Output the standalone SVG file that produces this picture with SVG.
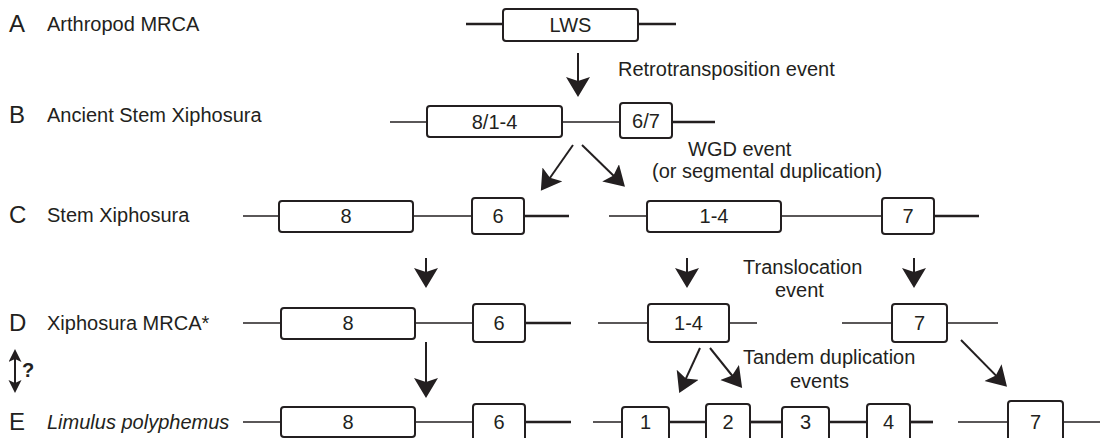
<svg xmlns="http://www.w3.org/2000/svg" width="1106" height="438" viewBox="0 0 1106 438">
<style>
text{font-family:"Liberation Sans",Arial,sans-serif;font-size:20px;fill:#231f20}
.let{font-size:24px}
.it{font-style:italic}
.box{fill:#fff;stroke:#231f20;stroke-width:2}
.bt{text-anchor:middle}
.thin{stroke:#231f20;stroke-width:1.5;fill:none}
.thick{stroke:#231f20;stroke-width:2.7;fill:none}
.arr{stroke:#231f20;stroke-width:2;fill:none;marker-end:url(#ah)}
</style>
<defs>
<marker id="ah" markerUnits="userSpaceOnUse" markerWidth="24" markerHeight="26" refX="11" refY="12" orient="auto" viewBox="0 0 24 26">
<path d="M20,12 L0,0 L4,12 L0,24 Z" fill="#231f20"/>
</marker>
<marker id="ahs" markerUnits="userSpaceOnUse" markerWidth="16" markerHeight="16" refX="6" refY="6.5" orient="auto-start-reverse" viewBox="0 0 16 16">
<path d="M13,6.5 L0,0 L3,6.5 L0,13 Z" fill="#231f20"/>
</marker>
</defs>
<g id="labels">
<text class="let" x="9" y="32">A</text><text x="47" y="31">Arthropod MRCA</text>
<text class="let" x="9" y="123">B</text><text x="47" y="122">Ancient Stem Xiphosura</text>
<text class="let" x="9" y="223">C</text><text x="47" y="222">Stem Xiphosura</text>
<text class="let" x="9" y="331">D</text><text x="47" y="330">Xiphosura MRCA*</text>
<text class="let" x="9" y="430">E</text><text class="it" x="47" y="429">Limulus polyphemus</text>
<line x1="15" y1="356" x2="15" y2="386" stroke="#231f20" stroke-width="2" marker-start="url(#ahs)" marker-end="url(#ahs)"/>
<text x="22" y="377" style="font-weight:bold">?</text>
<text x="618" y="76">Retrotransposition event</text>
<text x="688" y="156">WGD event</text>
<text x="652" y="178">(or segmental duplication)</text>
<text x="743" y="274">Translocation</text>
<text x="775" y="297">event</text>
<text x="743" y="364">Tandem duplication</text>
<text x="790" y="388">events</text>
</g>
<g id="backbones">
<line class="thick" x1="466" y1="24" x2="503" y2="24"/><line class="thick" x1="638" y1="24" x2="676" y2="24"/>
<line class="thin" x1="390" y1="122" x2="427" y2="122"/><line class="thin" x1="562" y1="122" x2="620" y2="122"/><line class="thick" x1="672" y1="122" x2="715" y2="122"/>
<line class="thin" x1="243" y1="216" x2="279" y2="216"/><line class="thin" x1="413" y1="216" x2="472" y2="216"/><line class="thick" x1="524" y1="216" x2="569" y2="216"/>
<line class="thin" x1="609" y1="216" x2="647" y2="216"/><line class="thin" x1="781" y1="216" x2="882" y2="216"/><line class="thick" x1="934" y1="216" x2="979" y2="216"/>
<line class="thin" x1="243" y1="323" x2="281" y2="323"/><line class="thin" x1="415" y1="323" x2="473" y2="323"/><line class="thick" x1="525" y1="323" x2="571" y2="323"/>
<line class="thin" x1="598" y1="323" x2="648" y2="323"/><line class="thin" x1="729" y1="323" x2="757" y2="323"/>
<line class="thin" x1="842" y1="323" x2="892" y2="323"/><line class="thin" x1="947" y1="323" x2="998" y2="323"/>
<line class="thin" x1="243" y1="422" x2="281" y2="422"/><line class="thin" x1="415" y1="422" x2="473" y2="422"/><line class="thick" x1="525" y1="422" x2="571" y2="422"/>
<line class="thin" x1="593" y1="422" x2="622" y2="422"/><line class="thick" x1="669" y1="422" x2="706" y2="422"/><line class="thick" x1="750" y1="422" x2="782" y2="422"/><line class="thick" x1="829" y1="422" x2="867" y2="422"/><line class="thick" x1="910" y1="422" x2="933" y2="422"/>
<line class="thin" x1="958" y1="422" x2="1008" y2="422"/><line class="thin" x1="1063" y1="422" x2="1100" y2="422"/>
</g>
<g id="a-lws"><rect class="box" x="503" y="9" width="135" height="32" rx="3"/><text class="bt" x="570.5" y="32">LWS</text></g>
<g id="b-814"><rect class="box" x="427" y="106" width="135" height="31" rx="3"/><text class="bt" x="494.5" y="129">8/1-4</text></g>
<g id="b-67"><rect class="box" x="620" y="103" width="52" height="35" rx="3"/><text class="bt" x="646" y="128">6/7</text></g>
<g id="c-8"><rect class="box" x="279" y="201" width="134" height="31" rx="3"/><text class="bt" x="346" y="223">8</text></g>
<g id="c-6"><rect class="box" x="472" y="198" width="52" height="36" rx="3"/><text class="bt" x="498" y="223">6</text></g>
<g id="c-14"><rect class="box" x="647" y="201" width="134" height="31" rx="3"/><text class="bt" x="714" y="223">1-4</text></g>
<g id="c-7"><rect class="box" x="882" y="198" width="52" height="36" rx="3"/><text class="bt" x="908" y="223">7</text></g>
<g id="d-8"><rect class="box" x="281" y="308" width="134" height="31" rx="3"/><text class="bt" x="348" y="330">8</text></g>
<g id="d-6"><rect class="box" x="473" y="304" width="52" height="38" rx="3"/><text class="bt" x="499" y="330">6</text></g>
<g id="d-14"><rect class="box" x="648" y="304" width="81" height="38" rx="3"/><text class="bt" x="688.5" y="330">1-4</text></g>
<g id="d-7"><rect class="box" x="892" y="304" width="55" height="38" rx="3"/><text class="bt" x="919.5" y="330">7</text></g>
<g id="e-8"><rect class="box" x="281" y="407" width="134" height="30" rx="3"/><text class="bt" x="348" y="429">8</text></g>
<g id="e-6"><rect class="box" x="473" y="404" width="52" height="38" rx="3"/><text class="bt" x="499" y="429">6</text></g>
<g id="e-1"><rect class="box" x="622" y="407" width="47" height="35" rx="3"/><text class="bt" x="645.5" y="429">1</text></g>
<g id="e-2"><rect class="box" x="706" y="404" width="44" height="38" rx="3"/><text class="bt" x="728" y="429">2</text></g>
<g id="e-3"><rect class="box" x="782" y="407" width="47" height="35" rx="3"/><text class="bt" x="805.5" y="429">3</text></g>
<g id="e-4"><rect class="box" x="867" y="404" width="43" height="38" rx="3"/><text class="bt" x="888.5" y="429">4</text></g>
<g id="e-7"><rect class="box" x="1008" y="401" width="55" height="40" rx="3"/><text class="bt" x="1035.5" y="429">7</text></g>
<g id="connectors">
<line class="arr" x1="578" y1="53" x2="578" y2="88"/>
<line class="arr" x1="573" y1="145" x2="546" y2="183.5"/>
<line class="arr" x1="582" y1="145" x2="618.5" y2="180.5"/>
<line class="arr" x1="426" y1="258" x2="426" y2="279"/>
<line class="arr" x1="687" y1="258" x2="687" y2="279"/>
<line class="arr" x1="914" y1="258" x2="914" y2="279"/>
<line class="arr" x1="426" y1="342" x2="426" y2="389"/>
<line class="arr" x1="700" y1="348" x2="683" y2="384.8"/>
<line class="arr" x1="710" y1="348" x2="736.5" y2="381"/>
<line class="arr" x1="961" y1="340" x2="1000.7" y2="380.4"/>
</g>
</svg>
